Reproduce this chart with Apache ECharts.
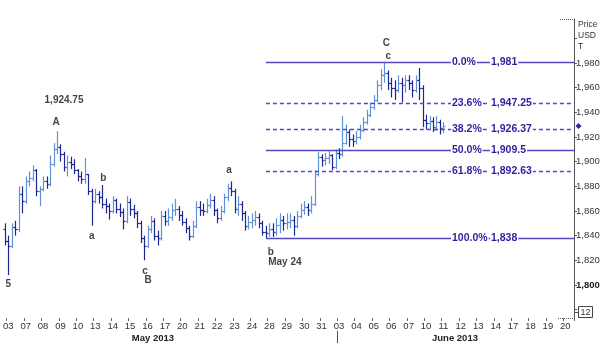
<!DOCTYPE html>
<html>
<head>
<meta charset="utf-8">
<script src="https://cdn.jsdelivr.net/npm/echarts@6/dist/echarts.min.js"></script>
<style>
  html, body { margin: 0; padding: 0; background: #fff; }
  #chart { width: 606px; height: 344px; }
</style>
</head>
<body>
<div id="chart"></div>
<script>
// Trading days on the time axis (May 3 .. June 20, 2013)
const dayLabels = ['03','07','08','09','10','13','14','15','16','17','20','21','22','23','24','28','29','30','31',
                   '03','04','05','06','07','10','11','12','13','14','17','18','19','20'];
const barsPerDay = 5;      // intraday bars per session
const leadBars = 1;        // tail of the previous session
const lastDayBars = 3;     // visible part of the last session

// Intraday bars: [open, close, low, high]
const ohlc = [
  [1845,1836,1832,1850],[1836,1832,1808,1840],[1832,1847,1830,1850],[1847,1845,1840,1852],[1845,1874,1843,1880],
  [1874,1868,1858,1880],[1868,1884,1866,1888],[1884,1887,1880,1892],[1887,1893,1884,1897],[1893,1876,1872,1894],
  [1876,1878,1864,1880],[1878,1884,1876,1888],[1884,1882,1878,1888],[1882,1898,1880,1905],[1898,1910,1896,1915],
  [1910,1912,1906,1924.75],[1912,1906,1900,1914],[1906,1896,1892,1908],[1896,1900,1888,1905],[1900,1898,1894,1904],
  [1898,1893,1890,1902],[1893,1888,1884,1894],[1888,1886,1882,1892],[1886,1890,1882,1903],[1890,1876,1873,1890],
  [1876,1868,1848,1878],[1868,1874,1866,1878],[1874,1871,1866,1876],[1871,1866,1862,1881],[1866,1864,1858,1870],
  [1864,1860,1853,1866],[1860,1869,1858,1872],[1869,1862,1858,1870],[1862,1859,1855,1866],[1859,1852,1845,1862],
  [1852,1867,1850,1872],[1867,1862,1856,1870],[1862,1858,1854,1865],[1858,1850,1846,1860],[1850,1838,1834,1852],
  [1838,1832,1820,1840],[1832,1845,1830,1848],[1845,1852,1842,1856],[1852,1840,1836,1854],[1840,1838,1832,1844],
  [1838,1856,1836,1860],[1856,1852,1848,1860],[1852,1855,1848,1862],[1855,1861,1852,1866],[1861,1862,1856,1870],
  [1862,1857,1852,1864],[1857,1851,1848,1860],[1851,1846,1842,1854],[1846,1840,1836,1848],[1840,1848,1838,1852],
  [1848,1863,1846,1868],[1863,1861,1856,1868],[1861,1860,1856,1866],[1860,1865,1858,1870],[1865,1869,1862,1874],
  [1869,1861,1856,1872],[1861,1854,1850,1862],[1854,1860,1852,1864],[1860,1871,1858,1874],[1871,1879,1868,1882],
  [1879,1876,1872,1884],[1876,1862,1858,1878],[1862,1866,1856,1872],[1866,1858,1852,1868],[1858,1848,1844,1860],
  [1848,1851,1845,1856],[1851,1853,1846,1858],[1853,1855,1848,1860],[1855,1850,1846,1858],[1850,1843,1840,1852],
  [1843,1842,1838,1848],[1842,1845,1839,1850],[1845,1843,1839,1850],[1843,1849,1840,1854],[1849,1853,1842,1858],
  [1853,1850,1844,1856],[1850,1851,1845,1858],[1851,1853,1846,1858],[1853,1848,1840,1856],[1848,1856,1846,1860],
  [1856,1861,1854,1866],[1861,1863,1857,1868],[1863,1861,1856,1866],[1861,1866,1858,1872],[1866,1890,1864,1893],
  [1890,1904,1888,1908],[1904,1901,1896,1906],[1901,1903,1897,1907],[1903,1905,1898,1909],[1905,1896,1893,1906],
  [1896,1907,1894,1910],[1907,1906,1902,1911],[1906,1915,1904,1937],[1915,1924,1914,1930],[1924,1918,1912,1926],
  [1918,1917,1912,1922],[1917,1920,1914,1925],[1920,1926,1918,1930],[1926,1932,1924,1936],[1932,1938,1930,1942],
  [1938,1944,1936,1948],[1944,1950,1942,1954],[1950,1962,1948,1966],[1962,1970,1958,1975],[1970,1972,1964,1981],
  [1972,1964,1958,1974],[1964,1960,1952,1968],[1960,1958,1950,1966],[1958,1964,1956,1970],[1964,1962,1948,1968],
  [1962,1966,1956,1970],[1966,1964,1958,1970],[1964,1958,1952,1966],[1958,1966,1956,1970],[1966,1960,1950,1976],
  [1960,1934,1928,1962],[1934,1931,1926,1938],[1931,1933,1926,1937],[1933,1928,1924,1936],[1928,1932,1925,1937],
  [1932,1927,1922,1934],[1927,1929,1923,1932]
];

// Fibonacci retracement of the May 24 low -> June 5 high swing
const swingLowBar = 75;
const swingLow = 1838;
const swingHigh = 1981;
const fibRatios = [0, 0.236, 0.382, 0.5, 0.618, 1];
const fibDashed = [false, true, true, false, true, false];

// Price axis labels
const priceTicks = [1800, 1820, 1840, 1860, 1880, 1900, 1920, 1940, 1960, 1980];

// Elliott wave notes anchored to bars
const waveNotes = [
  { bar: 1,   price: 1808,    text: '5' },
  { bar: 15,  price: 1924.75, text: '1,924.75' },
  { bar: 15,  price: 1924.75, text: 'A' },
  { bar: 25,  price: 1848,    text: 'a' },
  { bar: 28,  price: 1881,    text: 'b' },
  { bar: 40,  price: 1820,    text: 'c' },
  { bar: 40,  price: 1820,    text: 'B' },
  { bar: 65,  price: 1884,    text: 'a' },
  { bar: 75,  price: 1838,    text: 'b' },
  { bar: 75,  price: 1838,    text: 'May 24' },
  { bar: 109, price: 1981,    text: 'C' },
  { bar: 109, price: 1981,    text: 'c' }
];
// label placement (pixels) for the notes above, same order
const noteOffsets = [[0,9],[7,-31],[-1,-9],[0,10],[1,-7],[1,11],[4,20],[-2,-11],[5,14],[19,24],[2,-19],[4,-6]];

// ---- build the category axis ----
const totalBars = leadBars + (dayLabels.length - 1) * barsPerDay + lastDayBars;
const categories = [];
const dayStartLabel = {};
for (let i = 0; i < totalBars; i++) {
  categories.push('bar' + i);
  const k = i - leadBars;
  if (k >= 0 && k % barsPerDay === 0) dayStartLabel[i] = dayLabels[k / barsPerDay];
}
const isDayStart = (idx) => dayStartLabel[idx] !== undefined;

const fmtNum = (v, d) => v.toLocaleString('en-US', { minimumFractionDigits: d, maximumFractionDigits: d });
const fmtFib = (v) => {
  const r = Math.round(v * 100) / 100;
  const dec = Math.abs(r - Math.round(r)) < 1e-9 ? 0 : (Math.abs(r * 10 - Math.round(r * 10)) < 1e-9 ? 1 : 2);
  return fmtNum(r, dec);
};

const upColor = '#5f93d3';
const downColor = '#1c2790';
const fibLine = '#5548c0';
const fibDash = '#5345d0';
const fibText = '#2e1f9c';
const fibFont = 'bold 10.5px "Liberation Sans", Arial, sans-serif';

const measure = (() => {
  const ctx = document.createElement('canvas').getContext('2d');
  return (txt, font) => { ctx.font = font; return ctx.measureText(txt).width; };
})();

const fibData = fibRatios.map((r, k) => [swingLowBar, swingHigh - r * (swingHigh - swingLow), k]);

const chart = echarts.init(document.getElementById('chart'), null, { renderer: 'canvas' });

chart.setOption({
  animation: false,
  backgroundColor: '#fff',
  grid: { left: 0, right: 32, top: 19, bottom: 26 },
  xAxis: {
    type: 'category',
    data: categories,
    boundaryGap: true,
    axisLine: { show: false },
    axisTick: { show: true, length: 3, interval: (idx) => isDayStart(idx), lineStyle: { color: '#666' } },
    axisLabel: {
      interval: (idx) => isDayStart(idx),
      formatter: (v, idx) => dayStartLabel[idx] || '',
      margin: 3, fontSize: 9.5, color: '#333', fontFamily: '"Liberation Sans", Arial, sans-serif'
    },
    splitLine: { show: false }
  },
  yAxis: {
    type: 'value',
    position: 'right',
    min: 1773.2, max: 2015.7,
    splitNumber: 12, minInterval: 20, maxInterval: 20,
    axisLine: { show: true, lineStyle: { color: '#555' } },
    axisTick: { show: true, length: 3, lineStyle: { color: '#555' } },
    splitLine: { show: false },
    axisLabel: {
      margin: 2, fontSize: 9.5, color: '#333', fontFamily: '"Liberation Sans", Arial, sans-serif',
      showMinLabel: false, showMaxLabel: false,
      formatter: (v) => {
        if (priceTicks.indexOf(Math.round(v)) < 0 || Math.abs(v - Math.round(v)) > 1e-6) return '';
        const s = fmtNum(Math.round(v), 0);
        return Math.round(v) === priceTicks[0] ? '{b|' + s + '}' : s;
      },
      rich: { b: { fontWeight: 'bold', fontSize: 9.5, color: '#222' } }
    }
  },
  series: [
    {
      name: 'Price',
      type: 'custom',
      data: ohlc.map((d, i) => [i, d[0], d[1], d[2], d[3]]),
      encode: { x: 0, y: [1, 2, 3, 4] },
      clip: true,
      renderItem: (params, api) => {
        const i = api.value(0);
        const o = api.value(1), c = api.value(2), l = api.value(3), h = api.value(4);
        const pH = api.coord([i, h]), pL = api.coord([i, l]);
        const pO = api.coord([i, o]), pC = api.coord([i, c]);
        const x = Math.round(pH[0]) + 0.5;
        const col = c >= o ? upColor : downColor;
        const st = { stroke: col, lineWidth: 1.2 };
        return {
          type: 'group',
          children: [
            { type: 'line', shape: { x1: x, y1: pH[1], x2: x, y2: pL[1] }, style: st },
            { type: 'line', shape: { x1: x - 2, y1: Math.round(pO[1]) + 0.5, x2: x, y2: Math.round(pO[1]) + 0.5 }, style: st },
            { type: 'line', shape: { x1: x, y1: Math.round(pC[1]) + 0.5, x2: x + 2, y2: Math.round(pC[1]) + 0.5 }, style: st }
          ]
        };
      },
      z: 3
    },
    {
      name: 'Fibonacci',
      type: 'custom',
      data: fibData,
      encode: { x: 0, y: 1 },
      clip: false,
      renderItem: (params, api) => {
        const k = api.value(2);
        const level = api.value(1);
        const p = api.coord([api.value(0), level]);
        const cs = params.coordSys;
        const right = cs.x + cs.width;
        const dashed = fibDashed[k];
        const y = Math.round(p[1]) + 0.5;
        const pct = (fibRatios[k] * 100).toFixed(1) + '%';
        const val = fmtFib(level);
        const pctX = 451;
        const valX = Math.max(490, pctX + measure(pct, fibFont) + 3);
        const txtStyle = (t, xx) => ({
          type: 'text', x: xx, y: y,
          style: { text: t, font: fibFont, fill: fibText, verticalAlign: 'middle', align: 'left',
                   backgroundColor: '#fff', padding: [0, 1, 0, 1] }
        });
        return {
          type: 'group',
          children: [
            { type: 'line', shape: { x1: p[0], y1: y, x2: right, y2: y },
              style: { stroke: dashed ? fibDash : fibLine, lineWidth: 1.5, lineDash: dashed ? [4, 3] : null } },
            txtStyle(pct, pctX),
            txtStyle(val, valX)
          ]
        };
      },
      z: 4
    },
    {
      name: 'Waves',
      type: 'scatter',
      symbolSize: 0,
      silent: true,
      data: waveNotes.map((n, k) => ({
        value: [n.bar, n.price],
        label: { show: true, formatter: n.text, position: 'inside', offset: noteOffsets[k] }
      })),
      label: { color: '#111', fontWeight: 'bold', fontSize: 10, fontFamily: '"Liberation Sans", Arial, sans-serif' },
      z: 5
    }
  ]
});

// Axis furniture: unit caption, corner markers, month captions and last-price marker
const lastClose = ohlc[ohlc.length - 1][1];
const lastY = chart.convertToPixel({ yAxisIndex: 0 }, lastClose);
const capFont = '8.5px "Liberation Sans", Arial, sans-serif';
chart.setOption({
  graphic: [
    { type: 'text', left: 578, top: 20, style: { text: 'Price', font: capFont, fill: '#333' } },
    { type: 'text', left: 578, top: 31, style: { text: 'USD', font: capFont, fill: '#333' } },
    { type: 'text', left: 578, top: 42, style: { text: 'T', font: capFont, fill: '#333' } },
    { type: 'line', shape: { x1: 560, y1: 19.5, x2: 574, y2: 19.5 }, style: { stroke: '#555', lineDash: [1, 1] } },
    { type: 'line', shape: { x1: 558, y1: 318.5, x2: 574, y2: 318.5 }, style: { stroke: '#555', lineDash: [1, 1] } },
    { type: 'line', shape: { x1: 574, y1: 312.5, x2: 578, y2: 312.5 }, style: { stroke: '#555' } },
    { type: 'rect', shape: { x: 578.5, y: 306.5, width: 14, height: 11 }, style: { fill: '#fff', stroke: '#444', lineWidth: 1 } },
    { type: 'text', x: 585.5, y: 312.5, style: { text: '12', font: '9px "Liberation Sans", Arial, sans-serif', fill: '#333', align: 'center', verticalAlign: 'middle' } },
    { type: 'text', x: 153, y: 338, style: { text: 'May 2013', font: 'bold 9.5px "Liberation Sans", Arial, sans-serif', fill: '#222', align: 'center', verticalAlign: 'middle' } },
    { type: 'text', x: 455, y: 338, style: { text: 'June 2013', font: 'bold 9.5px "Liberation Sans", Arial, sans-serif', fill: '#222', align: 'center', verticalAlign: 'middle' } },
    { type: 'line', shape: { x1: 337.5, y1: 331, x2: 337.5, y2: 343 }, style: { stroke: '#555' } },
    { type: 'polygon', shape: { points: [[578.5, lastY - 3], [581.5, lastY], [578.5, lastY + 3], [575.5, lastY]] },
      style: { fill: '#2a2a9a' }, z: 10 }
  ]
});
</script>
</body>
</html>
